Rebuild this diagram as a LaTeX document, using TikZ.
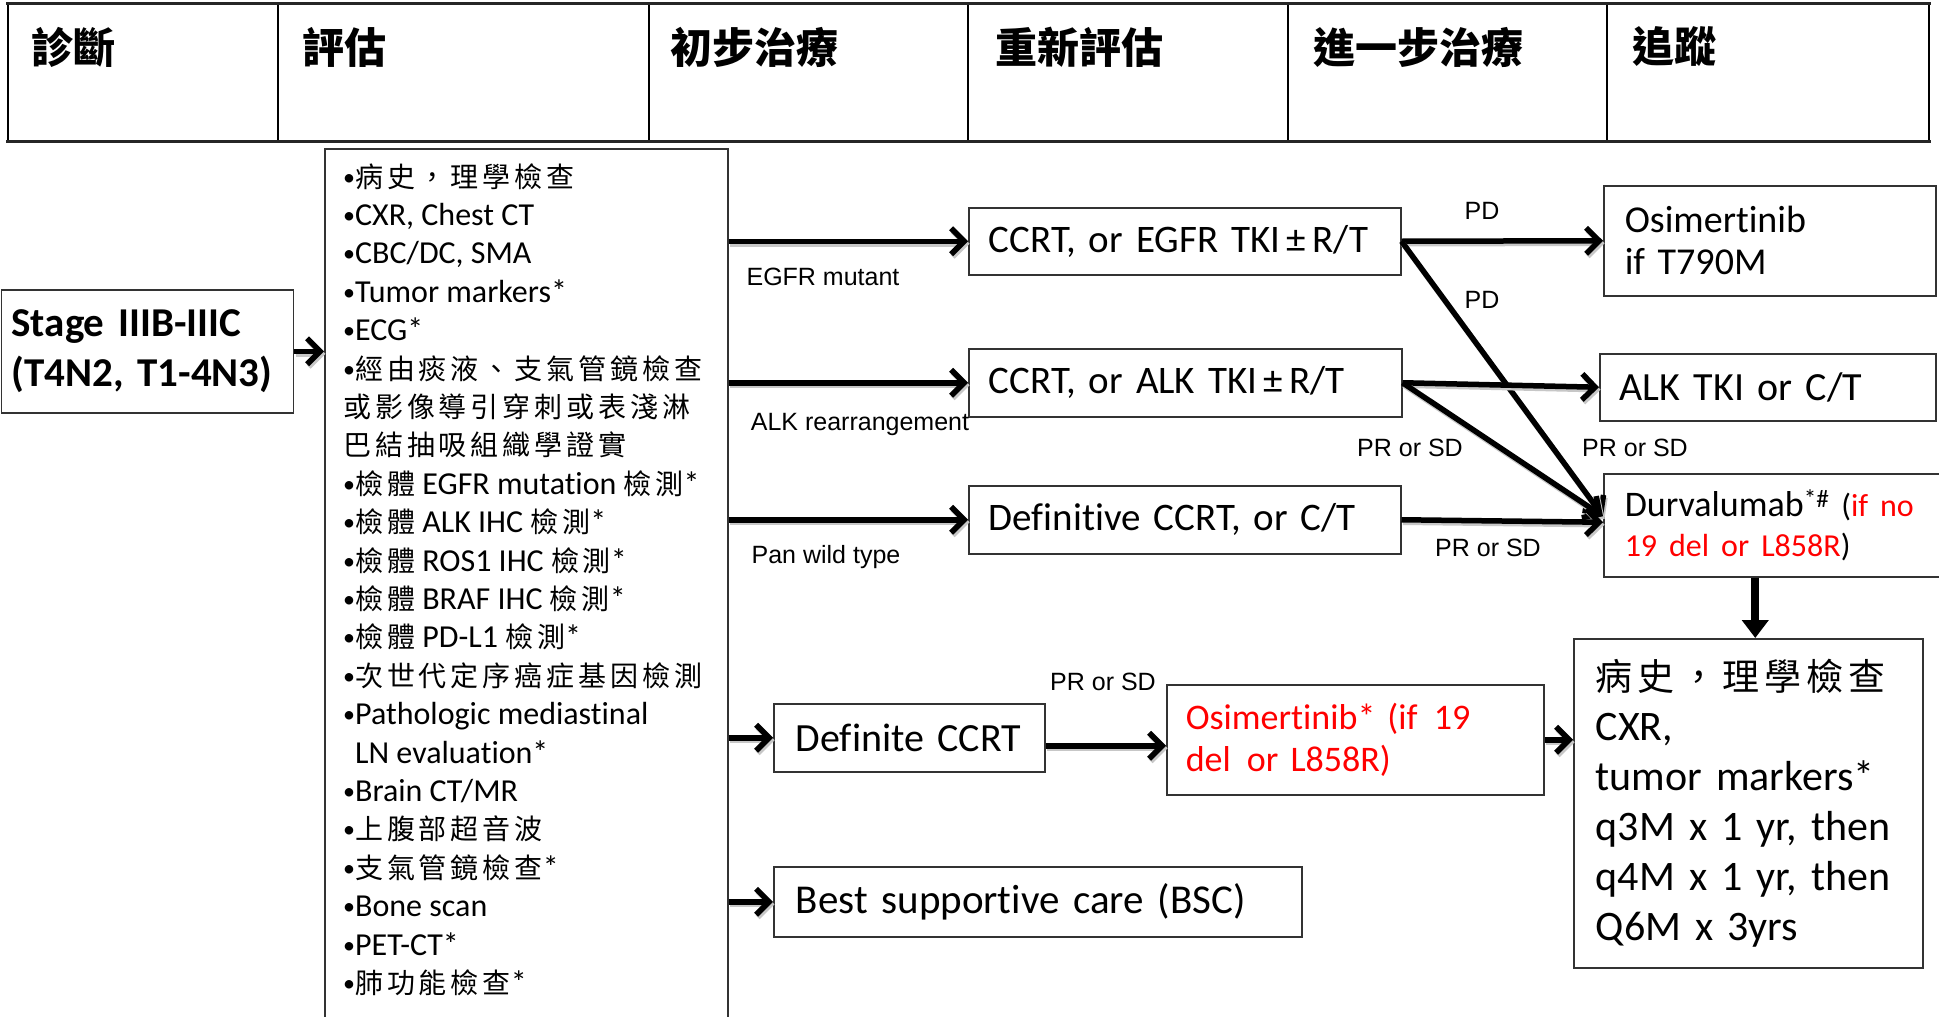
\documentclass[tikz,border=0pt]{standalone}
\usepackage{fontspec}
\setmainfont{Carlito}[Ligatures=NoCommon]
\newfontfamily\cjkfont{Noto Sans CJK TC}
\newfontfamily\cjkwide{Noto Sans CJK TC}[LetterSpace=14]
\newfontfamily\labelfont{Liberation Sans}
\usetikzlibrary{arrows.meta,calc}
\frenchspacing
\newcommand\setfs[2]{\fontsize{#1}{#2}\selectfont}
\newcommand\cj[2][28]{{\cjkwide\fontsize{#1}{\baselineskip}\selectfont #2}}
\newcommand\bul{\raisebox{2pt}{\fontsize{24}{24}\selectfont •}}
\definecolor{edge}{gray}{0.2}
\begin{document}
\begin{tikzpicture}[x=1pt,y=-1pt,
  box/.style={draw=edge, line width=1.5pt, align=left, inner ysep=0pt, anchor=north west},
  headtxt/.style={anchor=west, inner sep=0pt, font=\cjkfont\bfseries\setfs{42}{50}},
  listline/.style={anchor=base west, inner sep=0pt, font=\setfs{32}{38.4}},
  lab/.style={inner sep=0pt, font=\labelfont\setfs{25}{30}},
  arr/.style={line width=5.5pt, -{Straight Barb[length=13pt,width=26pt]},
    preaction={draw=black!22, line width=5.5pt, transform canvas={shift={(1.5pt,-2.5pt)}}}},
  arrv/.style={line width=8pt, -{Triangle[length=18pt,width=26pt]}}
]
% page
\fill[white] (0,0) rectangle (1939,1017);
\useasboundingbox (0,0) rectangle (1939,1017);

% header table
\foreach \xx in {8,278,649,968,1288,1607,1929}
  \draw[line width=1.4pt] (\xx,3) -- (\xx,142);
\draw[line width=3.5pt, black!85] (6,3.5) -- (1931,3.5);
\draw[line width=3.5pt, black!85] (6,141.5) -- (1931,141.5);
\node[headtxt] (h1) at (31,47) {診斷};
\node[headtxt] (h2) at (302,47) {評估};
\node[headtxt] (h3) at (670,47) {初步治療};
\node[headtxt] (h4) at (995,47) {重新評估};
\node[headtxt] (h5) at (1313,47) {進一步治療};
\node[headtxt] (h6) at (1632,47) {追蹤};

% diagnosis
\node[box, minimum width=292pt, minimum height=123pt, inner xsep=10pt, text width=272pt,
      font=\bfseries\setfs{41}{50}] (stage) at (0.75,289) {Stage IIIB-IIIC\\(T4N2, T1-4N3)};

% work-up list
\node[box, minimum width=403pt, minimum height=900pt, inner sep=0pt] (evalbox) at (324,148) {};
\foreach \txt [count=\i] in {
  {\bul\cj{病史，理學檢查}},
  {\bul CXR, Chest CT},
  {\bul CBC/DC, SMA},
  {\bul Tumor markers*},
  {\bul ECG*},
  {\bul\cj{經由痰液、支氣管鏡檢查}},
  {\cj{或影像導引穿刺或表淺淋}},
  {\cj{巴結抽吸組織學證實}},
  {\bul\cj{檢體} EGFR mutation \cj{檢測}*},
  {\bul\cj{檢體} ALK IHC \cj{檢測}*},
  {\bul\cj{檢體} ROS1 IHC \cj{檢測}*},
  {\bul\cj{檢體} BRAF IHC \cj{檢測}*},
  {\bul\cj{檢體} PD-L1 \cj{檢測}*},
  {\bul\cj{次世代定序癌症基因檢測}},
  {\bul Pathologic mediastinal},
  {\hphantom{\bul}LN evaluation*},
  {\bul Brain CT/MR},
  {\bul\cj{上腹部超音波}},
  {\bul\cj{支氣管鏡檢查}*},
  {\bul Bone scan},
  {\bul PET-CT*},
  {\bul\cj{肺功能檢查}*}}
  \node[listline] (ev\i) at (343,{187+38.4*(\i-1)}) {\txt};

% first-line treatment
\node[box, minimum width=432pt, minimum height=67pt, inner xsep=20pt, text width=392pt,
      font=\setfs{39}{48}] (A) at (968,207) {CCRT, or EGFR TKI\,±\,R/T};
\node[box, minimum width=433pt, minimum height=68pt, inner xsep=20pt, text width=393pt,
      font=\setfs{39}{48}] (B) at (968,348) {CCRT, or ALK TKI\,±\,R/T};
\node[box, minimum width=432pt, minimum height=68pt, inner xsep=20pt, text width=392pt,
      font=\setfs{39}{48}] (C) at (968,485) {Definitive CCRT, or C/T};
\node[box, minimum width=271pt, minimum height=68pt, inner xsep=22pt, text width=227pt,
      font=\setfs{40}{48}] (defc) at (773,703) {Definite CCRT};
\node[box, minimum width=528pt, minimum height=70pt, inner xsep=22pt, text width=484pt,
      font=\setfs{41}{48}] (bsc) at (773,866) {Best supportive care (BSC)};

% further treatment
\node[box, minimum width=332pt, minimum height=110pt, inner xsep=21pt, text width=290pt,
      font=\setfs{38}{42}] (osiT) at (1603,185) {Osimertinib\\if T790M};
\node[box, minimum width=336pt, minimum height=67pt, inner xsep=20pt, text width=296pt,
      font=\setfs{40}{48}] (alkc) at (1599,353) {ALK TKI or C/T};
\node[box, minimum width=345pt, minimum height=103pt, inner xsep=21pt, text width=303pt,
      font=\setfs{36}{40}] (durv) at (1603,473)
  {Durvalumab\textsuperscript{*\#}\hspace{12pt}{\setfs{32}{40}(\textcolor{red}{if no}}\\
   {\setfs{32}{40}\textcolor{red}{19 del or L858R})}};
\node[box, minimum width=377pt, minimum height=110pt, inner xsep=19pt, text width=339pt,
      text=red, font=\setfs{36}{42}] (osim) at (1166,684)
  {Osimertinib* (if\hspace{0.45em}19\\del\hspace{0.45em}or L858R)};

% follow-up
\node[box, minimum width=349pt, minimum height=329pt, inner xsep=22pt, text width=305pt,
      font=\setfs{42}{50}] (follow) at (1573,638)
  {\cj[37]{病史，理學檢查}\\CXR,\\tumor markers*\\q3M x 1 yr, then\\q4M x 1 yr, then\\Q6M x 3yrs};

% connection points
\coordinate (durvInA) at ($(durv.west)+(0,-9)$);
\coordinate (durvInC) at ($(durv.west)+(0,-3)$);
\coordinate (defOut) at ($(defc.east)+(0,8)$);
\coordinate (followTop) at ($(follow.north)+(7,0)$);

% connectors
\draw[arr] (stage.east) -- (stage.east -| evalbox.west);
\draw[arr] (A.west -| evalbox.east) -- (A.west);
\draw[arr] (B.west -| evalbox.east) -- (B.west);
\draw[arr] (C.west -| evalbox.east) -- (C.west);
\draw[arr] (defc.west -| evalbox.east) -- (defc.west);
\draw[arr] (bsc.west -| evalbox.east) -- (bsc.west);
\draw[arr] (A.east) -- (osiT.west);
\draw[arr] (A.east) -- (durvInA);
\draw[arr] (B.east) -- (alkc.west);
\draw[arr] (B.east) -- (durvInA);
\draw[arr] (C.east) -- (durvInC);
\draw[arr] (defOut) -- (defOut -| osim.west);
\draw[arr] (osim.east) -- (osim.east -| follow.west);
\draw[arrv] (followTop |- durv.south) -- (followTop);

% branch labels
\node[lab] (lEgfr) at (823,277) {EGFR mutant};
\node[lab] (lAlk) at (860,424) {ALK rearrangement};
\node[lab] (lPan) at (826,557) {Pan wild type};
\node[lab] (lPd1) at (1482,211) {PD};
\node[lab] (lPd2) at (1482,300) {PD};
\node[lab] (lPr1) at (1410,448) {PR or SD};
\node[lab] (lPr2) at (1635,448) {PR or SD};
\node[lab] (lPr3) at (1488,548) {PR or SD};
\node[lab] (lPr4) at (1103,682) {PR or SD};
\end{tikzpicture}
\end{document}
